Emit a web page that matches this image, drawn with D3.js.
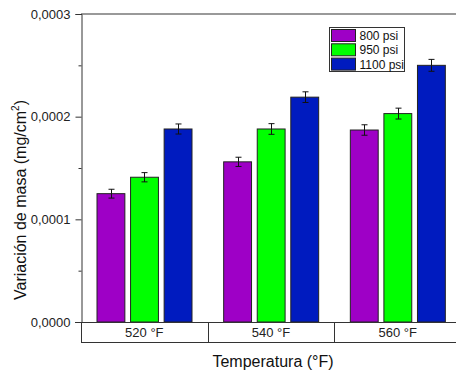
<!DOCTYPE html>
<html>
<head>
<meta charset="utf-8">
<script src="https://cdn.jsdelivr.net/npm/d3@7"></script>
<style>
  body { margin: 0; background: #fff; }
  svg { display: block; font-family: Arial, "Liberation Sans", sans-serif; }
</style>
</head>
<body>
<div id="chart"></div>
<script>
const temps = ['520 °F', '540 °F', '560 °F']
const series = ['800 psi', '950 psi', '1100 psi']
const colors = ['#9E00C6', '#00FF00', '#001BBF']
const vals800 = [0.000125, 0.000156, 0.000187]
const vals950 = [0.000141, 0.000188, 0.000203]
const vals1100 = [0.000188, 0.000219, 0.000250]
const err800 = [0.0000043, 0.0000045, 0.0000051]
const err950 = [0.0000045, 0.0000052, 0.0000053]
const err1100 = [0.0000049, 0.0000052, 0.0000058]
const yTicks = [0, 0.0001, 0.0002, 0.0003]
const yMinor = [0.00005, 0.00015, 0.00025]

const allVals = [vals800, vals950, vals1100]
const allErr = [err800, err950, err1100]

const W = 456, H = 372
const plotLeft = 81, plotTop = 14, plotBottom = 322

const svg = d3.select('#chart').append('svg')
    .attr('width', W).attr('height', H)

const y = d3.scaleLinear().domain([0, 0.0003]).range([plotBottom, plotTop])
const x0 = d3.scaleBand().domain(temps).range([plotLeft, 461])
const x1 = d3.scaleBand().domain(series).range([16, 111]).paddingInner(0.17)

var data = []
temps.forEach((t, i) => {
    series.forEach((s, j) => {
        data.push({t, s, j, v: allVals[j][i], e: allErr[j][i]})
    })
})

// bars
svg.append('g').selectAll('rect')
    .data(data)
    .enter()
    .append('rect')
    .attr('x', d => x0(d.t) + x1(d.s))
    .attr('y', d => y(d.v))
    .attr('width', x1.bandwidth())
    .attr('height', d => y(0) - y(d.v))
    .attr('fill', d => colors[d.j])
    .attr('stroke', '#222')
    .attr('stroke-width', 1)

// error bars
const eb = svg.append('g').attr('stroke', '#111').attr('stroke-width', 1)
data.forEach(d => {
    const cx = Math.round(x0(d.t) + x1(d.s) + x1.bandwidth() / 2) + 0.5
    eb.append('line').attr('x1', cx).attr('x2', cx).attr('y1', y(d.v + d.e)).attr('y2', y(d.v - d.e))
    eb.append('line').attr('x1', cx - 3).attr('x2', cx + 3).attr('y1', y(d.v + d.e)).attr('y2', y(d.v + d.e))
    eb.append('line').attr('x1', cx - 3).attr('x2', cx + 3).attr('y1', y(d.v - d.e)).attr('y2', y(d.v - d.e))
})

// top frame line
svg.append('line')
    .attr('x1', plotLeft).attr('x2', W).attr('y1', plotTop).attr('y2', plotTop)
    .attr('stroke', '#999').attr('stroke-width', 2)

// y axis
const yAxis = svg.append('g')
    .attr('transform', `translate(${plotLeft + 0.5},0)`)
    .call(d3.axisLeft(y).tickValues(yTicks).tickSize(6).tickPadding(5)
        .tickFormat(d => d3.format('.4f')(d).replace('.', ',')))
yAxis.select('.domain').attr('stroke', '#333')
yAxis.selectAll('.tick line').attr('stroke', '#333')
yAxis.selectAll('text').attr('font-size', 13).attr('fill', '#222')
    .attr('font-family', 'Arial, "Liberation Sans", sans-serif')

svg.append('g')
    .attr('transform', `translate(${plotLeft + 0.5},0)`)
    .call(d3.axisLeft(y).tickValues(yMinor).tickSize(3).tickFormat(''))
    .call(g => g.select('.domain').remove())
    .selectAll('.tick line').attr('stroke', '#333')

// zero line and category table
const tbl = svg.append('g').attr('stroke', '#333').attr('stroke-width', 1)
tbl.append('line').attr('x1', plotLeft - 6).attr('x2', W).attr('y1', plotBottom + 0.5).attr('y2', plotBottom + 0.5)
tbl.append('line').attr('x1', plotLeft).attr('x2', W).attr('y1', 342.5).attr('y2', 342.5)
temps.forEach(t => {
    const xx = Math.round(x0(t)) + 0.5
    tbl.append('line').attr('x1', xx).attr('x2', xx).attr('y1', plotBottom).attr('y2', 343)
})
svg.append('g').selectAll('text')
    .data(temps)
    .enter()
    .append('text')
    .attr('x', d => x0(d) + x0.bandwidth() / 2)
    .attr('y', 337)
    .attr('text-anchor', 'middle')
    .attr('font-size', 13)
    .attr('fill', '#222')
    .text(d => d)

// axis titles
svg.append('text')
    .attr('x', 273).attr('y', 367)
    .attr('text-anchor', 'middle')
    .attr('font-size', 16)
    .attr('fill', '#111')
    .text('Temperatura (°F)')

const yt = svg.append('text')
    .attr('transform', 'translate(26,200) rotate(-90)')
    .attr('text-anchor', 'middle')
    .attr('font-size', 16)
    .attr('fill', '#111')
yt.append('tspan').text('Variación de masa (mg/cm')
yt.append('tspan').attr('font-size', 10).attr('dy', -7).text('2')
yt.append('tspan').attr('dy', 7).text(')')

// legend
const lg = svg.append('g').attr('transform', 'translate(329.5,27.5)')
lg.append('rect').attr('width', 75).attr('height', 44)
    .attr('fill', '#fff').attr('stroke', '#333')
series.forEach((s, j) => {
    lg.append('rect')
        .attr('x', 2).attr('y', 2 + j * 14.3)
        .attr('width', 24).attr('height', 12)
        .attr('fill', colors[j]).attr('stroke', '#222')
    lg.append('text')
        .attr('x', 30).attr('y', 12.5 + j * 14.3)
        .attr('font-size', 12)
        .attr('fill', '#111')
        .text(s)
})
</script>
</body>
</html>
